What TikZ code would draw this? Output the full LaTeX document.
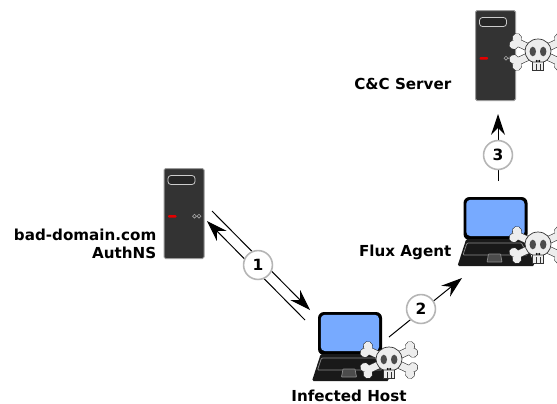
\documentclass[tikz,border=0pt]{standalone}
\usepackage{fontspec}
\setmainfont{DejaVu Sans}
\usetikzlibrary{arrows.meta}
\definecolor{srv}{HTML}{333333}
\definecolor{srvedge}{HTML}{9A9A9A}
\definecolor{scr}{HTML}{77AAFF}
\definecolor{bonec}{HTML}{EDEDED}
\definecolor{ringc}{HTML}{B5B5B5}
\newcommand{\onebone}{%
  \draw[black!80,line width=8pt] (-23,0)--(23,0);
  \foreach \a in {-25,25}\foreach \b in {-3.6,3.6}{\fill[black!80] (\a,\b) circle (5);}
  \draw[bonec,line width=6.8pt] (-23,0)--(23,0);
  \foreach \a in {-25,25}\foreach \b in {-3.6,3.6}{\fill[bonec] (\a,\b) circle (4.4);}
}
\tikzset{
  every node/.style={font=\bfseries\fontsize{15.2}{18}\selectfont,text=black,inner sep=0pt},
  conn/.style={line width=1pt,draw=black},
  arr/.style={conn,-{Stealth[length=21pt,width=14pt,inset=7pt]}},
  badge/.style={circle,draw=ringc,fill=white,line width=1.6pt,minimum size=29pt,font=\bfseries\fontsize{15.5}{18}\selectfont},
  lab/.style={anchor=east,align=right},
  pics/server/.style={code={
    \fill[srv,draw=srvedge,line width=1pt,rounded corners=1.5pt] (0,0) rectangle (40,90);
    \draw[fill=black!85,draw=black!20,line width=.8pt,rounded corners=3pt] (4,7) rectangle (31,16);
    \fill[red!90!black,rounded corners=1pt] (4,46.5) rectangle (12.5,49);
    \draw[black!35,line width=.6pt] (30.5,47.7) circle (1.9) (35,47.7) circle (1.9);
  }},
  pics/laptop/.style={code={
    \fill[black,rounded corners=6pt] (0,0) rectangle (64,43);
    \fill[scr,rounded corners=4pt] (2.8,2.8) rectangle (61,39);
    \fill[black!90,rounded corners=1.5pt] (2.7,42) -- (62,42) -- (71,69) -- (-6,69) -- cycle;
    \draw[black!45,line width=.7pt,rounded corners=1pt] (3.5,46) -- (58,46) -- (64,58) -- (-.5,58) -- cycle;
    \draw[black!45,line width=.7pt,fill=black!70,rounded corners=.5pt] (25,57) -- (37,57) -- (38.5,65) -- (23.5,65) -- cycle;
  }},
  pics/skull/.style={code={
    \begin{scope}[rotate=25]\onebone\end{scope}
    \begin{scope}[rotate=-25]\onebone\end{scope}
    \draw[black!80,fill=bonec,line width=.7pt] (-5.5,7) -- (-5.5,18) -- (5.5,18) -- (5.5,7) -- cycle;
    \draw[black!80,fill=bonec,line width=.7pt] (0,-13) .. controls (8,-13) and (13,-7) .. (13,-1)
       .. controls (13,5) and (8,10) .. (5,10) -- (-5,10)
       .. controls (-8,10) and (-13,5) .. (-13,-1)
       .. controls (-13,-7) and (-8,-13) .. (0,-13) -- cycle;
    \fill[black!70] (-5.2,-.5) ellipse (3.2 and 4.8) (5.2,-.5) ellipse (3.2 and 4.8);
    \fill[black] (-1.2,9) circle (1.1) (1.2,9) circle (1.1);
    \draw[black!80,line width=.5pt] (-2,12)--(-2,18) (2,12)--(2,18);
  }},
}
\begin{document}
\begin{tikzpicture}[x=1bp,y=-1bp]
\useasboundingbox (0,0) rectangle (557,403);
\begin{scope}
\clip (0,0) rectangle (557,403);
% devices
\pic at (475.5,10.5) {server};
\pic at (164,168.5) {server};
\pic at (318,312) {laptop};
\pic at (463.5,197) {laptop};
\pic at (389,360) {skull};
\pic at (538,245) {skull};
\pic at (538,52) {skull};
\end{scope}
% connector ends
\coordinate (d1) at (212,211);
\coordinate (h1) at (310,310);
\coordinate (h2) at (305,320);
\coordinate (d2) at (207,221);
\coordinate (h3) at (389,337);
\coordinate (f1) at (462,278);
\coordinate (f2) at (498,181);
\coordinate (c1) at (498,114);
\draw[arr] (d1) -- (h1);
\draw[arr] (h2) -- (d2);
\draw[arr] (h3) -- (f1);
\draw[arr] (f2) -- (c1);
% badges
\node[badge] (n1) at (258,265) {1};
\node[badge] (n2) at (421,309) {2};
\node[badge] (n3) at (498,155) {3};
% labels
\node[lab] (lc) at (451.5,84) {C\&C Server};
\node[lab] (la) at (156.5,243.5) {bad-domain.com\\[0pt]AuthNS};
\node[lab] (lf) at (451.5,252) {Flux Agent};
\node (li) at (349,395.5) {Infected Host};
\end{tikzpicture}
\end{document}
